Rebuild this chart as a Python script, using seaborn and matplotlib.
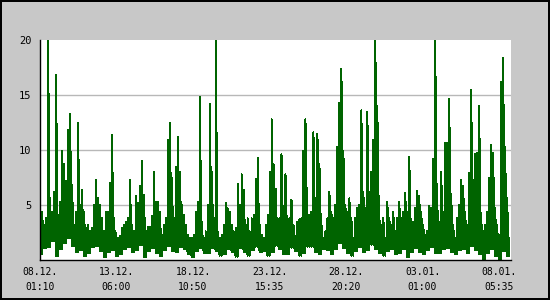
import numpy as np
import pandas as pd
import matplotlib
matplotlib.use("Agg")
import matplotlib.pyplot as plt
import matplotlib.dates as mdates
from matplotlib.ticker import FixedLocator, MultipleLocator
import seaborn as sns

# ---- data (upper envelope per 2-px slot, lower envelope per 4-px slot)
peaks = [3.8, 4.4, 3.2, 3.8, 20, 4.9, 4.4, 6.2, 16.8, 3.8,
         5.3, 9.9, 8.7, 7.2, 11.8, 13.3, 6.8, 3.2, 4.4, 12.5,
         5, 6.4, 4.4, 2.9, 3.2, 2.6, 2.9, 5, 7.3, 5.6,
         5, 3.8, 2.6, 4.4, 4.4, 7, 11.4, 3.8, 2.5, 2,
         2.2, 2.9, 3.2, 3.5, 3.8, 7.3, 3.2, 2.6, 5.8, 5.2,
         6.7, 9, 5.9, 2.6, 3, 3, 4, 8, 5.3, 5.3,
         4.4, 2.3, 3.2, 3.8, 10.9, 12.5, 7.5, 3.8, 8.5, 11.2,
         8, 5, 4.1, 3.2, 2.3, 2, 2, 2.3, 4.4, 5.3,
         14.8, 3.5, 2, 2.6, 5, 14.2, 8, 3.8, 20, 2.6,
         2, 2.3, 3.2, 5.2, 4.7, 4.4, 3.2, 2.6, 2.9, 6.9,
         5, 7.8, 6.4, 3.2, 3.8, 2.6, 3.8, 4.1, 7.4, 9.3,
         3.2, 2.3, 2, 3.2, 4.1, 8, 12.8, 8.7, 6.5, 2.5,
         3.8, 9.6, 4.3, 7.8, 2.9, 3.8, 5.5, 3.2, 2.2, 3.5,
         3.7, 3.8, 9.9, 12.8, 3.2, 4.1, 4.4, 11.6, 5, 11.5,
         8.7, 3.2, 2, 2.6, 3.8, 6.2, 4.4, 3.8, 5, 10.3,
         14.3, 17.4, 9.9, 5, 4.4, 5.6, 3.8, 2, 3.8, 4.7,
         5, 13.6, 6.2, 4.7, 13.5, 6.2, 8, 10.9, 20, 14,
         4, 3.2, 3.8, 2, 5.3, 3.8, 3.2, 4.4, 2.6, 3.8,
         5.3, 3.8, 4.4, 6.1, 4.4, 9.4, 3.2, 3.5, 4.7, 6.3,
         5.8, 4.4, 3.2, 2.3, 2.6, 4.9, 4.7, 9.2, 20, 5.3,
         3.5, 8, 4.4, 10.6, 10.6, 14.6, 6, 3.2, 2, 3.8,
         5, 7.3, 6.7, 4.4, 3.2, 7.9, 15.5, 7.3, 9.6, 9.7,
         14, 4.1, 2.6, 3.2, 4.4, 7.5, 10.5, 9.7, 4.7, 3.2,
         2.3, 16.2, 18.4, 10.3, 5.6, 2]

troughs = [0.5, 1.1, 1.2, 1.7, 0.4, 1.0, 1.5, 2.0, 1.3, 0.7,
           0.9, 0.4, 0.6, 1.2, 1.3, 0.8, 0.3, 0.7, 0.9, 0.4,
           0.5, 1.0, 1.2, 0.7, 0.9, 1.4, 0.3, 0.8, 1.1, 0.6,
           0.4, 0.9, 1.3, 0.8, 0.7, 1.2, 1.0, 0.5, 0.3, 0.8,
           1.1, 0.6, 0.6, 1.1, 0.8, 0.4, 0.5, 1.0, 0.7, 0.3,
           1.1, 0.7, 0.4, 0.9, 1.2, 0.7, 0.8, 0.4, 0.7, 1.3,
           1.0, 0.5, 0.5, 1.1, 0.8, 0.4, 0.6, 1.2, 1.2, 0.7,
           0.5, 1.0, 0.9, 0.5, 1.0, 1.5, 1.1, 0.6, 0.4, 0.8,
           1.2, 0.7, 0.9, 1.4, 1.0, 0.6, 0.4, 0.8, 1.0, 0.5,
           0.6, 1.0, 0.3, 0.7, 1.1, 0.7, 0.5, 0.9, 1.2, 0.6,
           0.6, 1.0, 1.1, 0.7, 0.5, 0.9, 1.0, 0.6, 1.3, 0.9,
           0.5, 0.1, 0.6, 1.0, 0.4, 0.0, 0.8, 0.4]

start = pd.Timestamp("2008-12-08 01:10")
span_hours = 768.5
tick_step = pd.Timedelta(hours=124, minutes=50)
tick_labels = ["08.12.\n01:10", "13.12.\n06:00", "18.12.\n10:50", "23.12.\n15:35",
               "28.12.\n20:20", "03.01.\n01:00", "08.01.\n05:35"]
y_ticks = [5, 10, 15, 20]

# ---- build a long table: per slot go trough -> peak
step = pd.Timedelta(hours=span_hours) / len(peaks)
times, vals = [], []
for i, p in enumerate(peaks):
    t = start + i * step
    times += [t, t]
    vals += [troughs[i // 2], p]
df = pd.DataFrame({"time": times, "value": vals})

sns.set_style("white")
plt.rcParams["font.family"] = ["DejaVu Sans Mono"]

fig = plt.figure(figsize=(5.5, 3.0), dpi=100, facecolor="#c8c8c8",
                 edgecolor="#000000", linewidth=1.5)
ax = fig.add_axes([40 / 550, 40 / 300, 471 / 550, 220 / 300])
ax.set_facecolor("white")

sns.lineplot(data=df, x="time", y="value", ax=ax, estimator=None, sort=False,
             color="#006400", linewidth=0.72, antialiased=False, zorder=3)

ax.set_xlim(start, start + pd.Timedelta(hours=span_hours))
ax.set_ylim(0, 20)

tick_times = [mdates.date2num(start + k * tick_step) for k in range(len(tick_labels))]
ax.xaxis.set_major_locator(FixedLocator(tick_times))
ax.set_xticklabels(tick_labels, fontsize=7, color="black", linespacing=1.6)
ax.yaxis.set_major_locator(FixedLocator(y_ticks))
ax.set_yticklabels([str(v) for v in y_ticks], fontsize=7.5, color="black")
ax.yaxis.set_minor_locator(MultipleLocator(1))

for v in [5, 10, 15]:
    ax.axhline(v, color="#b8b8b8", linewidth=1.0, zorder=1)

ax.tick_params(axis="x", direction="in", length=4, width=1, pad=5, color="black")
ax.tick_params(axis="y", which="major", direction="in", length=4, width=1, pad=6, color="black")
ax.tick_params(axis="y", which="minor", direction="in", length=3, width=1, color="black")
ax.set_xlabel("")
ax.set_ylabel("")

for side in ["top", "right"]:
    ax.spines[side].set_visible(False)
for side in ["left", "bottom"]:
    ax.spines[side].set_color("black")
    ax.spines[side].set_linewidth(1.0)
    ax.spines[side].set_zorder(4)

fig.savefig("out.png", dpi=100, facecolor=fig.get_facecolor(), edgecolor=fig.get_edgecolor())
